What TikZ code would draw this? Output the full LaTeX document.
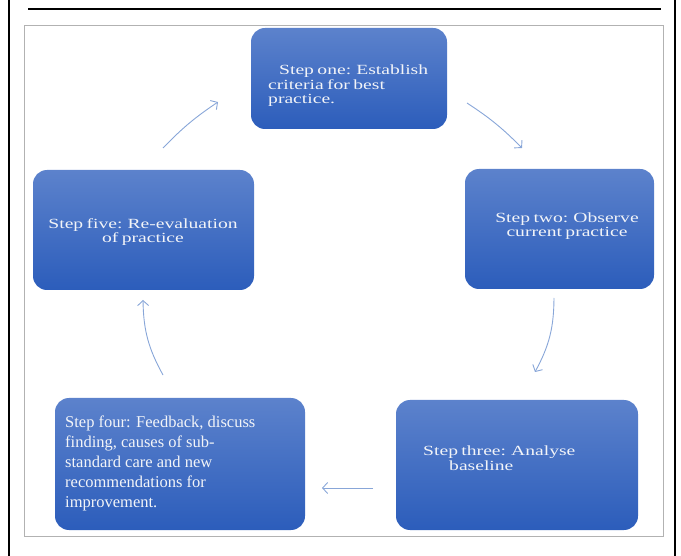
\documentclass[tikz,border=0pt]{standalone}
\usepackage{fontspec}
\setmainfont{Liberation Serif}
\newfontfamily\widefont[FakeStretch=1.4,WordSpace=0.7]{Liberation Serif}
\usetikzlibrary{arrows.meta}
\definecolor{boxtop}{HTML}{5C82CC}
\definecolor{boxbot}{HTML}{2C5DBB}
\definecolor{arrowc}{HTML}{88A6D8}
\definecolor{txt}{HTML}{F2F4F8}
\tikzset{
  stepbox/.style={draw=none, rounded corners=14pt, top color=boxtop, bottom color=boxbot, inner sep=0pt},
  steptext/.style={text=txt, inner sep=0pt, font=\widefont\fontsize{14}{14.5}\selectfont},
  cyc/.style={draw=arrowc, line width=0.9pt, -{Straight Barb[length=5pt,width=11pt]}}
}
\begin{document}
\begin{tikzpicture}[x=1pt,y=-1pt]
\useasboundingbox (0,0) rectangle (681,556);
% frame
\draw[line width=2pt] (9,0) -- (9,556);
\draw[line width=2pt] (675,0) -- (675,556);
\draw[line width=2.5pt] (28,9) -- (661,9);
\draw[draw=gray!60, line width=0.7pt] (24,25) rectangle (663,536);
% boxes
\node[stepbox, minimum width=196pt, minimum height=101pt] (b1) at (349,78.5) {};
\node[stepbox, minimum width=189pt, minimum height=120pt] (b2) at (559.5,229) {};
\node[stepbox, minimum width=242pt, minimum height=130pt] (b3) at (517,465) {};
\node[stepbox, minimum width=250pt, minimum height=132pt] (b4) at (180,464) {};
\node[stepbox, minimum width=221pt, minimum height=120pt] (b5) at (143.5,230) {};
% texts
\node[steptext, align=left, anchor=north west] (t1) at (268,65) {\hspace{11pt}Step one: Establish\\criteria for best\\practice.};
\node[steptext, align=center] (t2) at (567,226) {Step two: Observe\\current practice};
\node[steptext, align=left, anchor=north west] (t3) at (423,446) {Step three: Analyse\\\hspace{26pt}baseline};
\node[text=txt, inner sep=0pt, align=left, anchor=north west, font=\fontsize{16.5}{20}\selectfont] (t4) at (65,416) {Step four: Feedback, discuss\\finding, causes of sub-\\standard care and new\\recommendations for\\improvement.};
\node[steptext, align=center] (t5) at (143,232) {Step five: Re-evaluation\\of practice};
% connector anchors
\coordinate (a1s) at (163,148); \coordinate (a1e) at (218,102);
\coordinate (a2s) at (467,103); \coordinate (a2e) at (522,148);
\coordinate (a3s) at (554,298); \coordinate (a3e) at (535,372);
\coordinate (a4s) at (373,488); \coordinate (a4e) at (322,488);
\coordinate (a5s) at (163,375); \coordinate (a5e) at (143,300);
\draw[cyc] (a1s) to[bend left=6] (a1e);
\draw[cyc] (a2s) to[bend left=6] (a2e);
\draw[cyc] (a3s) to[bend left=14] (a3e);
\draw[cyc] (a4s) -- (a4e);
\draw[cyc] (a5s) to[bend left=14] (a5e);
\end{tikzpicture}
\end{document}
